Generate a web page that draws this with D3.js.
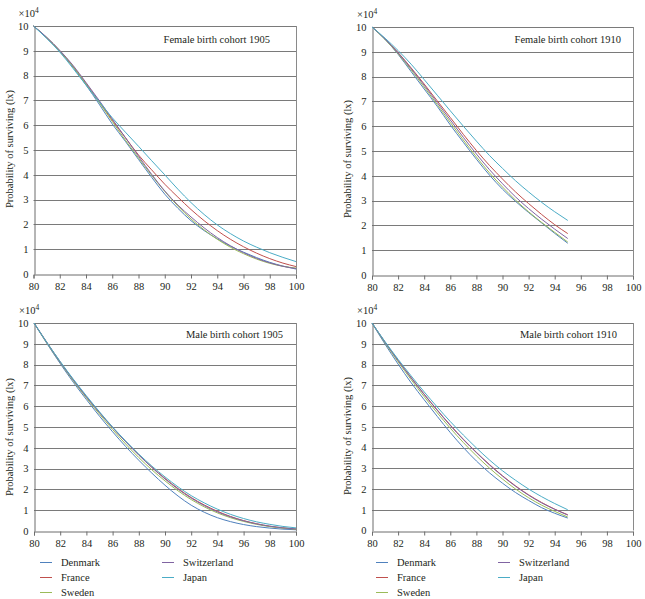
<!DOCTYPE html>
<html>
<head>
<meta charset="utf-8">
<script src="https://cdn.jsdelivr.net/npm/d3@7"></script>
<style>
  html, body { margin: 0; padding: 0; background: #ffffff; }
  svg { display: block; }
  text { font-family: "Liberation Serif", "Times New Roman", serif; fill: #231f20; }
</style>
</head>
<body>
<svg id="chart" width="645" height="599"></svg>
<script>
// ---------------- DATA (lx, in units of 10^4) ----------------
const countries = ["Denmark", "France", "Sweden", "Switzerland", "Japan"];
const colors = ["#4F81BD", "#C0504D", "#9BBB59", "#8064A2", "#4BACC6"];

const ages1905 = [80, 81, 82, 83, 84, 85, 86, 87, 88, 89, 90, 91, 92, 93, 94, 95, 96, 97, 98, 99, 100];
const ages1910 = [80, 81, 82, 83, 84, 85, 86, 87, 88, 89, 90, 91, 92, 93, 94, 95];
const xTicks = [80, 82, 84, 86, 88, 90, 92, 94, 96, 98, 100];
const yTicks = [0, 1, 2, 3, 4, 5, 6, 7, 8, 9, 10];

// Female birth cohort 1905
const female1905Denmark     = [10, 9.52, 8.98, 8.35, 7.62, 6.85, 6.05, 5.35, 4.62, 3.9, 3.22, 2.65, 2.15, 1.75, 1.42, 1.12, 0.88, 0.66, 0.47, 0.32, 0.2];
const female1905France      = [10, 9.53, 9.0, 8.38, 7.68, 6.95, 6.2, 5.5, 4.8, 4.2, 3.62, 3.1, 2.6, 2.15, 1.75, 1.4, 1.1, 0.84, 0.62, 0.44, 0.3];
const female1905Sweden      = [10, 9.54, 9.0, 8.38, 7.66, 6.92, 6.15, 5.4, 4.68, 3.98, 3.33, 2.74, 2.22, 1.78, 1.4, 1.08, 0.82, 0.6, 0.43, 0.31, 0.24];
const female1905Switzerland = [10, 9.55, 9.02, 8.42, 7.72, 7.0, 6.25, 5.5, 4.75, 4.02, 3.35, 2.78, 2.3, 1.86, 1.47, 1.14, 0.86, 0.63, 0.45, 0.31, 0.22];
const female1905Japan       = [10, 9.5, 8.95, 8.3, 7.62, 6.95, 6.3, 5.72, 5.15, 4.57, 4.0, 3.42, 2.88, 2.4, 1.98, 1.63, 1.33, 1.08, 0.86, 0.67, 0.5];

// Female birth cohort 1910
const female1910Denmark     = [10, 9.5, 8.9, 8.2, 7.5, 6.8, 6.05, 5.35, 4.67, 4.03, 3.46, 2.97, 2.52, 2.1, 1.68, 1.28];
const female1910France      = [10, 9.52, 8.97, 8.35, 7.7, 7.02, 6.35, 5.67, 5.02, 4.42, 3.87, 3.35, 2.88, 2.44, 2.03, 1.67];
const female1910Sweden      = [10, 9.5, 8.92, 8.27, 7.58, 6.87, 6.15, 5.44, 4.76, 4.12, 3.55, 3.02, 2.55, 2.12, 1.72, 1.33];
const female1910Switzerland = [10, 9.52, 8.95, 8.32, 7.65, 6.95, 6.25, 5.55, 4.88, 4.25, 3.68, 3.15, 2.68, 2.25, 1.85, 1.47];
const female1910Japan       = [10, 9.55, 9.05, 8.5, 7.88, 7.25, 6.62, 6.0, 5.4, 4.82, 4.3, 3.8, 3.35, 2.93, 2.55, 2.2];

// Male birth cohort 1905
const male1905Denmark     = [10, 9.0, 8.05, 7.15, 6.32, 5.52, 4.77, 4.06, 3.4, 2.78, 2.2, 1.68, 1.24, 0.9, 0.64, 0.45, 0.31, 0.21, 0.14, 0.09, 0.06];
const male1905France      = [10, 9.05, 8.13, 7.27, 6.46, 5.7, 4.98, 4.3, 3.66, 3.07, 2.53, 2.04, 1.61, 1.25, 0.95, 0.7, 0.5, 0.35, 0.23, 0.15, 0.09];
const male1905Sweden      = [10, 9.02, 8.1, 7.22, 6.4, 5.62, 4.88, 4.18, 3.53, 2.94, 2.41, 1.93, 1.51, 1.16, 0.87, 0.64, 0.46, 0.32, 0.21, 0.14, 0.09];
const male1905Switzerland = [10, 9.04, 8.12, 7.26, 6.45, 5.69, 4.97, 4.29, 3.65, 3.05, 2.5, 2.01, 1.58, 1.22, 0.92, 0.68, 0.49, 0.34, 0.23, 0.15, 0.1];
const male1905Japan       = [10, 9.05, 8.15, 7.3, 6.5, 5.73, 5.0, 4.33, 3.7, 3.12, 2.6, 2.12, 1.7, 1.35, 1.05, 0.8, 0.6, 0.44, 0.32, 0.22, 0.15];

// Male birth cohort 1910
const male1910Denmark     = [10, 8.98, 8.02, 7.12, 6.3, 5.5, 4.72, 4.0, 3.35, 2.78, 2.28, 1.83, 1.45, 1.1, 0.83, 0.6];
const male1910France      = [10, 9.08, 8.2, 7.37, 6.57, 5.81, 5.08, 4.4, 3.77, 3.18, 2.64, 2.15, 1.72, 1.35, 1.03, 0.76];
const male1910Sweden      = [10, 9.04, 8.13, 7.27, 6.45, 5.67, 4.93, 4.24, 3.6, 3.01, 2.48, 2.0, 1.58, 1.22, 0.92, 0.65];
const male1910Switzerland = [10, 9.07, 8.19, 7.35, 6.55, 5.79, 5.06, 4.38, 3.75, 3.16, 2.62, 2.13, 1.7, 1.33, 1.02, 0.74];
const male1910Japan       = [10, 9.1, 8.25, 7.45, 6.68, 5.95, 5.25, 4.6, 3.98, 3.4, 2.88, 2.42, 2.0, 1.63, 1.3, 1.0];

const panelTitles = ["Female birth cohort 1905", "Female birth cohort 1910", "Male birth cohort 1905", "Male birth cohort 1910"];

// ---------------- LAYOUT ----------------
const panels = [
  { title: panelTitles[0], ages: ages1905, left: 33.5, right: 296, top: 26, bottom: 274, titleEnd: 270, titleY: 43, labelY: 149,
    series: [female1905Denmark, female1905France, female1905Sweden, female1905Switzerland, female1905Japan] },
  { title: panelTitles[1], ages: ages1910, left: 372, right: 633, top: 27, bottom: 275, titleEnd: 621, titleY: 43, labelY: 159,
    series: [female1910Denmark, female1910France, female1910Sweden, female1910Switzerland, female1910Japan] },
  { title: panelTitles[2], ages: ages1905, left: 34, right: 296, top: 323, bottom: 531, titleEnd: 283, titleY: 338, labelY: 437,
    series: [male1905Denmark, male1905France, male1905Sweden, male1905Switzerland, male1905Japan] },
  { title: panelTitles[3], ages: ages1910, left: 372, right: 633, top: 323, bottom: 530.5, titleEnd: 617, titleY: 338, labelY: 436,
    series: [male1910Denmark, male1910France, male1910Sweden, male1910Switzerland, male1910Japan] }
];

const svg = d3.select("#chart");
const FS = "10.5px";

panels.forEach(p => {
  const x = d3.scaleLinear().domain([80, 100]).range([p.left, p.right]);
  const y = d3.scaleLinear().domain([0, 10]).range([p.bottom, p.top]);
  const g = svg.append("g");

  // gridlines
  g.selectAll("line.grid").data(yTicks.filter(t => t > 0)).join("line")
    .attr("class", "grid")
    .attr("x1", p.left).attr("x2", p.right)
    .attr("y1", d => Math.round(y(d)) + 0.5).attr("y2", d => Math.round(y(d)) + 0.5)
    .attr("stroke", "#7a7a7a").attr("stroke-width", 1);

  // right border
  g.append("line")
    .attr("x1", Math.round(p.right) + 0.5).attr("x2", Math.round(p.right) + 0.5)
    .attr("y1", y(10)).attr("y2", y(0))
    .attr("stroke", "#8a8a8a").attr("stroke-width", 1);

  // axes
  const xAxis = d3.axisBottom(x).tickValues(xTicks).tickSize(4).tickPadding(4).tickFormat(d3.format("d"));
  const gx = g.append("g").attr("transform", `translate(0,${Math.round(p.bottom) + 0.5})`).call(xAxis);
  gx.select(".domain").attr("stroke", "#6d6d6d");
  gx.selectAll(".tick line").attr("stroke", "#6d6d6d");
  gx.selectAll("text").style("font-size", FS).style("font-family", "Liberation Serif").attr("fill", "#231f20");

  const yAxis = d3.axisLeft(y).tickValues(yTicks).tickSize(0).tickPadding(6).tickFormat(d3.format("d"));
  const gy = g.append("g").attr("transform", `translate(${Math.round(p.left) + 0.5},0)`).call(yAxis);
  gy.select(".domain").attr("stroke", "#6d6d6d");
  gy.selectAll("text").style("font-size", FS).style("font-family", "Liberation Serif").attr("fill", "#231f20");

  // x10^4 label
  const mult = g.append("text")
    .attr("x", p.left - 15).attr("y", p.top - 9)
    .style("font-size", FS);
  mult.append("tspan").text("×10");
  mult.append("tspan").attr("dy", -4).style("font-size", "7.5px").text("4");

  // y label
  g.append("text")
    .attr("transform", `translate(${p.left - 21},${p.labelY}) rotate(-90)`)
    .attr("text-anchor", "middle")
    .style("font-size", FS)
    .text("Probability of surviving (lx)");

  // title
  g.append("text")
    .attr("x", p.titleEnd).attr("y", p.titleY)
    .attr("text-anchor", "end")
    .style("font-size", FS)
    .text(p.title);

  // lines
  const line = d3.line()
    .x((d, i) => x(p.ages[i]))
    .y(d => y(d))
    .curve(d3.curveMonotoneX);

  g.selectAll("path.series").data(p.series).join("path")
    .attr("class", "series")
    .attr("d", line)
    .attr("fill", "none")
    .attr("stroke", (d, i) => colors[i])
    .attr("stroke-width", 1);
});

// ---------------- LEGENDS ----------------
const legendBlocks = [{ x: 40 }, { x: 376 }];
const legendLayout = [
  { col: 0, row: 0 }, { col: 0, row: 1 }, { col: 0, row: 2 },
  { col: 1, row: 0 }, { col: 1, row: 1 }
];
legendBlocks.forEach(b => {
  const lg = svg.append("g");
  countries.forEach((c, i) => {
    const pos = legendLayout[i];
    const lx = b.x + pos.col * 122;
    const ly = 562 + pos.row * 15;
    lg.append("line")
      .attr("x1", lx).attr("x2", lx + 12)
      .attr("y1", ly + 0.5).attr("y2", ly + 0.5)
      .attr("stroke", colors[i]).attr("stroke-width", 1);
    lg.append("text")
      .attr("x", lx + 21).attr("y", ly + 4)
      .style("font-size", FS)
      .text(c);
  });
});
</script>
</body>
</html>
